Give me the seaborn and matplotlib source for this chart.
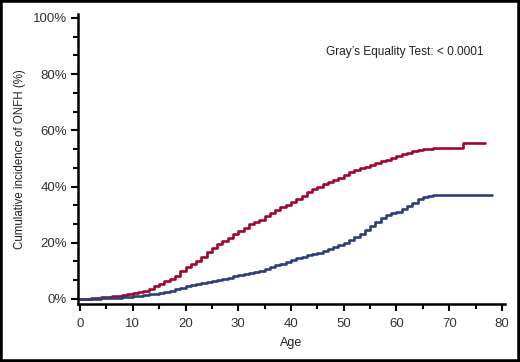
import matplotlib
matplotlib.use("Agg")
import matplotlib.pyplot as plt
import seaborn as sns
import pandas as pd
import numpy as np
from matplotlib.ticker import MultipleLocator, FuncFormatter
from matplotlib.patches import Rectangle

# Data (cumulative incidence, %)
red_age = list(range(0, 68)) + [72.7, 76.8]
red_inc = [0.0, 0.1, 0.3, 0.4, 0.6, 0.7, 0.9, 1.1, 1.3, 1.6,
           2.0, 2.3, 2.8, 3.6, 4.6, 5.4, 6.3, 7.0, 8.3, 9.8,
           11.2, 12.3, 13.5, 15.0, 16.8, 18.3, 19.5, 20.6, 21.8, 23.0,
           24.1, 25.3, 26.5, 27.3, 28.2, 29.4, 30.5, 31.6, 32.6, 33.6,
           34.6, 35.6, 36.8, 38.0, 39.0, 40.0, 40.9, 41.7, 42.3, 43.2,
           44.0, 45.0, 46.0, 46.5, 47.0, 47.8, 48.5, 49.0, 49.5, 50.3,
           51.0, 51.5, 52.0, 52.5, 53.0, 53.3, 53.5, 53.6,
           55.4, 55.4]

blue_age = list(range(0, 68)) + [78.2]
blue_inc = [0.0, 0.05, 0.1, 0.15, 0.2, 0.3, 0.4, 0.5, 0.6, 0.8,
            1.0, 1.2, 1.4, 1.6, 1.8, 2.2, 2.6, 3.0, 3.5, 4.0,
            4.6, 5.0, 5.2, 5.5, 5.9, 6.3, 6.8, 7.2, 7.6, 8.0,
            8.4, 8.8, 9.2, 9.6, 10.0, 10.7, 11.3, 12.0, 12.6, 13.3,
            13.9, 14.4, 15.0, 15.5, 16.0, 16.5, 17.0, 17.7, 18.5, 19.2,
            20.0, 21.0, 22.0, 23.2, 24.5, 26.0, 27.5, 28.8, 30.0, 30.5,
            31.0, 32.0, 33.0, 34.3, 35.5, 36.2, 36.8, 37.0,
            37.0]

x_ticks = [0, 10, 20, 30, 40, 50, 60, 70, 80]
y_ticks = [0, 20, 40, 60, 80, 100]
annotation = "Gray\u2019s Equality Test: < 0.0001"
x_label = "Age"
y_label = "Cumulative incidence of ONFH (%)"

red_color = "#A0062E"
blue_color = "#2C3F78"

sns.set_style("white")
plt.rcParams['font.family'] = ['Liberation Sans', 'DejaVu Sans']

fig = plt.figure(figsize=(5.2, 3.62), dpi=100)
ax = fig.add_axes([78 / 520, 1 - 304 / 362, (505 - 78) / 520, (304 - 14) / 362])

df_red = pd.DataFrame({"age": red_age, "inc": red_inc})
df_blue = pd.DataFrame({"age": blue_age, "inc": blue_inc})
sns.lineplot(data=df_red, x="age", y="inc", ax=ax, color=red_color,
             linewidth=1.9, drawstyle="steps-post", estimator=None)
sns.lineplot(data=df_blue, x="age", y="inc", ax=ax, color=blue_color,
             linewidth=1.9, drawstyle="steps-post", estimator=None)

ax.set_xlim(-0.38, 80.57)
ax.set_ylim(-1.8, 101.4)
ax.set_xticks(x_ticks)
ax.set_yticks(y_ticks)
ax.xaxis.set_minor_locator(MultipleLocator(5))
ax.yaxis.set_minor_locator(MultipleLocator(20 / 3))
ax.yaxis.set_major_formatter(FuncFormatter(lambda v, p: f"{int(v)}%"))

for s in ["top", "right"]:
    ax.spines[s].set_visible(False)
for s in ["left", "bottom"]:
    ax.spines[s].set_linewidth(1.8)
    ax.spines[s].set_color("black")

ax.tick_params(axis="both", which="both", bottom=True, left=True, top=False, right=False)
ax.tick_params(axis="both", which="major", direction="out", length=5, width=1.5,
               colors="black", labelsize=9.5, labelcolor="#333333")
ax.tick_params(axis="both", which="minor", direction="out", length=3.5, width=1.5,
               colors="black")
ax.tick_params(axis="y", which="major", pad=3)
ax.tick_params(axis="x", which="major", pad=5)

ax.set_xlabel(x_label, fontsize=9, labelpad=5, color="#222222")
ax.set_ylabel(y_label, fontsize=8.3, labelpad=5, color="#222222")

ax.text(0.95, 0.869, annotation, transform=ax.transAxes, ha="right", va="center",
        fontsize=8.6, color="#222222")

fig.patches.append(Rectangle((0, 0), 1, 1, transform=fig.transFigure,
                             fill=False, edgecolor="black", linewidth=4))

fig.savefig("out.png", dpi=100)
